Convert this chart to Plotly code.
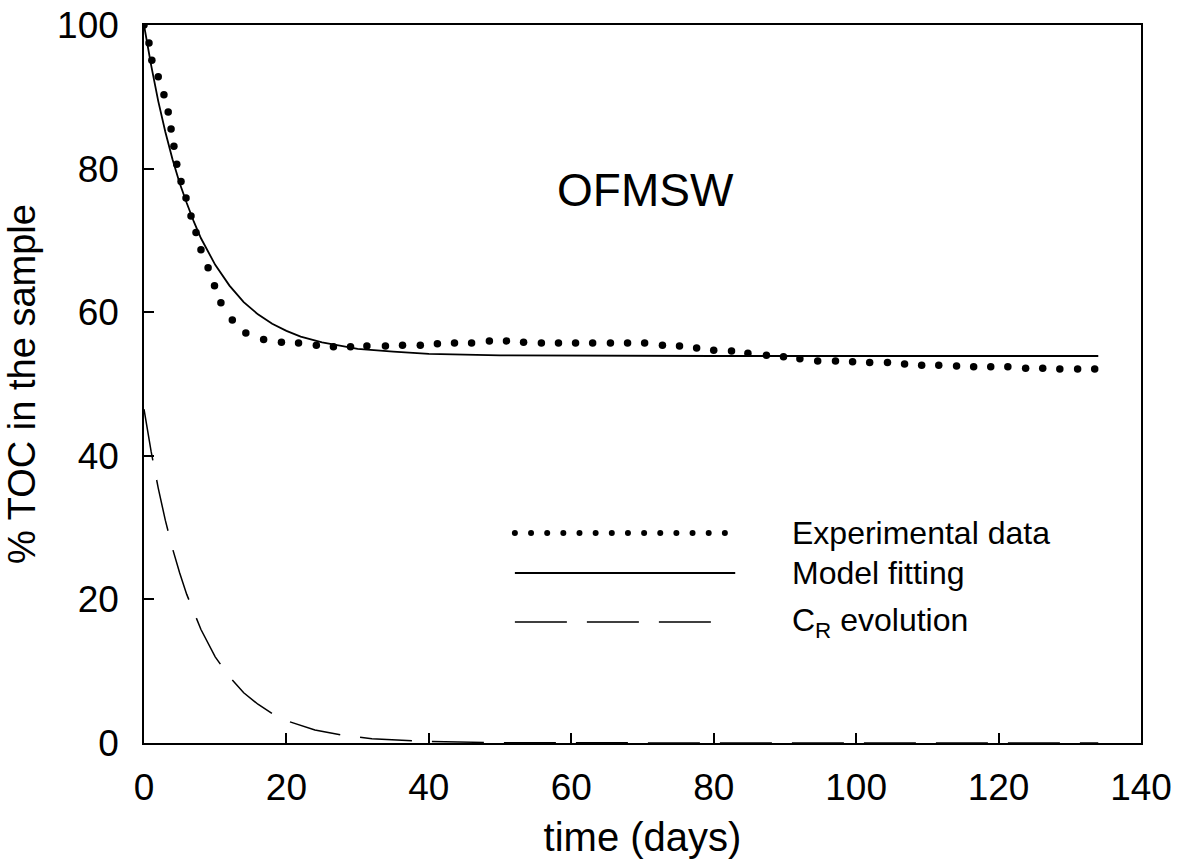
import plotly.graph_objects as go

exp_days = [0, 0.7, 1.1, 2.0, 2.8, 3.4, 3.8, 4.2, 4.6, 5.2, 5.9, 6.6, 7.3, 8.0, 9.0, 9.9,
            10.8, 12.4, 14.3, 16.8, 19.3, 21.7, 24.2, 26.6, 29.0, 31.3, 33.9, 36.3, 38.8,
            41.2, 43.6, 46.0, 48.5, 50.9, 53.3, 55.8, 58.2, 60.6, 63.0, 65.5, 67.9, 70.3,
            72.8, 75.2, 77.6, 80.0, 82.5, 84.8, 87.4, 89.8, 92.1, 94.6, 97.1, 99.5, 101.9,
            104.4, 106.8, 109.2, 111.6, 114.1, 116.5, 118.9, 121.3, 123.8, 126.2, 128.6,
            131.1, 133.5]
exp_toc = [100, 97.5, 95.1, 92.8, 90.3, 87.9, 85.5, 83.1, 80.6, 78.2, 75.9, 73.4, 71.1,
           68.7, 66.2, 63.7, 61.3, 58.9, 57.1, 56.2, 55.8, 55.7, 55.4, 55.2, 55.2, 55.3,
           55.3, 55.4, 55.4, 55.6, 55.7, 55.7, 56.0, 56.0, 55.8, 55.7, 55.7, 55.7, 55.7,
           55.7, 55.7, 55.7, 55.4, 55.3, 55.0, 54.7, 54.6, 54.3, 54.0, 53.8, 53.5, 53.2,
           53.2, 53.1, 53.0, 53.0, 52.8, 52.6, 52.6, 52.5, 52.4, 52.4, 52.4, 52.2, 52.2,
           52.1, 52.1, 52.1]

# Model fitting (solid line)
model_days = [0, 1, 2, 3, 4, 5, 6, 7, 8, 9, 10, 12, 14, 16, 18, 20, 22, 25, 30, 35, 40,
              50, 60, 80, 100, 120, 134]
model_toc = [100, 94.4, 89.4, 85.1, 81.3, 78.0, 75.2, 72.6, 70.3, 68.4, 66.6, 63.7, 61.4,
             59.7, 58.4, 57.4, 56.6, 55.8, 54.9, 54.5, 54.2, 54.0, 53.95, 53.9, 53.9, 53.9,
             53.9]

# C_R evolution (dashed line)
cr_days = [0, 1, 2, 3, 4, 5, 6, 8, 10, 12, 14, 16, 18, 20, 24, 28, 32, 36, 40, 50, 60,
           80, 100, 120, 134]
cr_toc = [46.5, 40.6, 35.5, 31.0, 27.1, 23.7, 20.7, 15.8, 12.0, 9.2, 7.0, 5.4, 4.1, 3.1,
          1.8, 1.05, 0.6, 0.35, 0.2, 0.05, 0.0, 0.0, 0.0, 0.0, 0.0]

legend_labels = ["Experimental data", "Model fitting", "C<sub>R</sub> evolution"]

FONT = "Liberation Sans, Arial, sans-serif"
CR_DASH = "52px,20px"

fig = go.Figure()

fig.add_trace(go.Scatter(
    x=exp_days, y=exp_toc, mode="markers",
    marker=dict(color="black", size=7.5),
    showlegend=False,
))
fig.add_trace(go.Scatter(
    x=model_days, y=model_toc, mode="lines",
    line=dict(color="black", width=1.8),
    showlegend=False,
))
fig.add_trace(go.Scatter(
    x=cr_days, y=cr_toc, mode="lines",
    line=dict(color="black", width=1.5, dash=CR_DASH),
    showlegend=False,
))

#* Hand drawn legend on an overlay axis (0..1 = plot area)
key_x0 = 0.372
row_y = [0.2925, 0.2368, 0.1685]
dot_x = [key_x0 + i * 0.0162 for i in range(14)]
fig.add_trace(go.Scatter(
    x=dot_x, y=[row_y[0]] * len(dot_x), mode="markers",
    marker=dict(color="black", size=6),
    xaxis="x2", yaxis="y2", showlegend=False, hoverinfo="skip",
))
fig.add_trace(go.Scatter(
    x=[key_x0, 0.593], y=[row_y[1]] * 2, mode="lines",
    line=dict(color="black", width=1.8),
    xaxis="x2", yaxis="y2", showlegend=False, hoverinfo="skip",
))
fig.add_trace(go.Scatter(
    x=[key_x0, 0.573], y=[row_y[2]] * 2, mode="lines",
    line=dict(color="black", width=1.5, dash=CR_DASH),
    xaxis="x2", yaxis="y2", showlegend=False, hoverinfo="skip",
))
for label, y in zip(legend_labels, row_y):
    fig.add_annotation(
        x=0.648, y=y, xref="paper", yref="paper", text=label, showarrow=False,
        xanchor="left", yanchor="middle", font=dict(size=32, color="black", family=FONT),
    )

fig.add_annotation(
    x=70.4, y=77.0, text="OFMSW", showarrow=False,
    font=dict(size=46, color="black", family=FONT),
)

axis_common = dict(
    showline=True, linecolor="black", linewidth=1.5, mirror=True,
    ticks="inside", ticklen=10, tickwidth=1.5, tickcolor="black",
    showgrid=False, zeroline=False, ticklabeloverflow="allow", automargin=False,
    tickfont=dict(size=37, color="black", family=FONT),
)

fig.update_layout(
    width=1184, height=865,
    margin=dict(l=144, r=43, t=25, b=122, autoexpand=False),
    paper_bgcolor="white", plot_bgcolor="white",
    font=dict(family=FONT, color="black"),
    xaxis=dict(
        range=[0, 140], dtick=20, tick0=0,
        title=dict(text="time (days)", font=dict(size=40), standoff=16),
        ticklabelstandoff=11,
        **axis_common,
    ),
    yaxis=dict(
        range=[0, 100], dtick=20, tick0=0,
        title=dict(text="% TOC in the sample", font=dict(size=38), standoff=10),
        ticklabelstandoff=16,
        **axis_common,
    ),
    xaxis2=dict(overlaying="x", range=[0, 1], visible=False),
    yaxis2=dict(overlaying="y", range=[0, 1], visible=False),
)

#* Drop the default 8 px body margin so the figure fills the window exactly
fig.write_html("out.html", config={"displayModeBar": False},
               post_script="document.body.style.margin = '0';")
